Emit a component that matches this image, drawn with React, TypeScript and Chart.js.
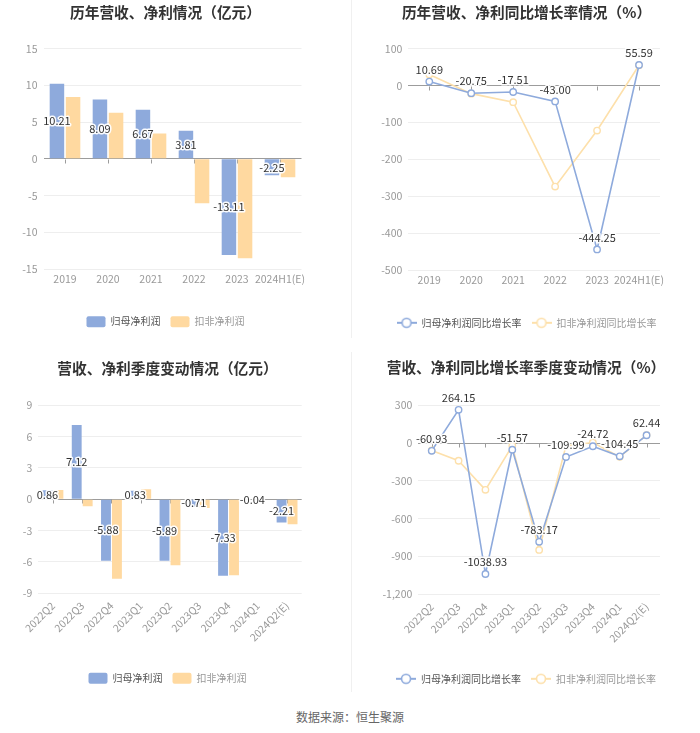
import React, { useEffect, useRef } from "react";
import { Chart, registerables } from "chart.js";

Chart.register(...registerables);

// ---------- data ----------
const yearCats = ["2019", "2020", "2021", "2022", "2023", "2024H1(E)"];
const yearNetProfit = [10.21, 8.09, 6.67, 3.81, -13.11, -2.25];
const yearDeductedProfit = [8.4, 6.27, 3.45, -6.05, -13.55, -2.5];
const yearNetGrowth = [10.69, -20.75, -17.51, -43.0, -444.25, 55.59];
const yearDeductedGrowth = [30, -22, -45, -274, -122, 55];

const quarterCats = ["2022Q2", "2022Q3", "2022Q4", "2023Q1", "2023Q2", "2023Q3", "2023Q4", "2024Q1", "2024Q2(E)"];
const quarterNetProfit = [0.86, 7.12, -5.88, 0.83, -5.89, -0.71, -7.33, -0.04, -2.21];
const quarterDeductedProfit = [0.9, -0.67, -7.6, 0.96, -6.32, -0.83, -7.28, -0.05, -2.39];
const quarterNetGrowth = [-60.93, 264.15, -1038.93, -51.57, -783.17, -109.99, -24.72, -104.45, 62.44];
const quarterDeductedGrowth = [-58, -140, -371, -21, -848, -20, 5, -109, 64];

const titles = [
  "历年营收、净利情况（亿元）",
  "历年营收、净利同比增长率情况（%）",
  "营收、净利季度变动情况（亿元）",
  "营收、净利同比增长率季度变动情况（%）",
];
const barSeriesNames = ["归母净利润", "扣非净利润"];
const lineSeriesNames = ["归母净利润同比增长率", "扣非净利润同比增长率"];
const sourceText = "数据来源：恒生聚源";

// ---------- style ----------
const FONT = '"Noto Sans CJK SC", "Noto Sans", sans-serif';
const BLUE = "#8eaadc";
const ORANGE = "#ffd9a0";
const ORANGE_LINE = "#fde0ab";
const TICK_COLOR = "#999";
const GRID = "#eeeeee";
const ZERO = "#9c9c9c";

Chart.defaults.font.family = FONT;

const valueLabelPlugin = {
  id: "valueLabels",
  afterDatasetsDraw(chart: any, _args: any, opts: any) {
    if (!opts || !opts.mode) return;
    const meta = chart.getDatasetMeta(0);
    const data = chart.data.datasets[0].data as number[];
    const ctx = chart.ctx;
    ctx.save();
    ctx.font = `11px ${FONT}`;
    ctx.textAlign = "center";
    ctx.textBaseline = "middle";
    ctx.lineJoin = "round";
    meta.data.forEach((el: any, i: number) => {
      const v = data[i];
      const x = el.x;
      const y = opts.mode === "center" ? (el.y + el.base) / 2 : el.y - 12;
      const txt = v.toFixed(2);
      ctx.strokeStyle = "rgba(255,255,255,0.95)";
      ctx.lineWidth = 3;
      ctx.strokeText(txt, x, y);
      ctx.fillStyle = "#333";
      ctx.fillText(txt, x, y);
    });
    ctx.restore();
  },
};

const zeroTickPlugin = {
  id: "zeroTicks",
  beforeDatasetsDraw(chart: any) {
    const xs = chart.scales.x;
    const ys = chart.scales.y;
    const y0 = Math.round(ys.getPixelForValue(0)) + 0.5;
    const ctx = chart.ctx;
    ctx.save();
    ctx.strokeStyle = ZERO;
    ctx.lineWidth = 1;
    ctx.beginPath();
    const n = chart.data.labels.length;
    for (let i = 0; i < n; i++) {
      const x = Math.round(xs.getPixelForValue(i)) + 0.5;
      ctx.moveTo(x, y0);
      ctx.lineTo(x, y0 + 4);
    }
    ctx.stroke();
    ctx.restore();
  },
};

function legendIcon(color: string) {
  const c = document.createElement("canvas");
  c.width = 20;
  c.height = 12;
  const ctx = c.getContext("2d")!;
  ctx.strokeStyle = color;
  ctx.lineWidth = 2;
  ctx.beginPath();
  ctx.moveTo(0, 6);
  ctx.lineTo(20, 6);
  ctx.stroke();
  ctx.beginPath();
  ctx.arc(10, 6, 4.5, 0, Math.PI * 2);
  ctx.fillStyle = "#fff";
  ctx.fill();
  ctx.lineWidth = 1.6;
  ctx.stroke();
  return c;
}

type PanelGeom = {
  padL: number;
  padR: number;
  padB: number;
  yWidth: number;
  rightWidth: number;
  xHeight: number;
  titleTop: number;
  titleBottom: number;
};

function buildConfig(kind: "bar" | "line", title: string, labels: string[], a: number[], b: number[], yMin: number, yMax: number, step: number, g: PanelGeom, rotate: boolean): any {
  const isBar = kind === "bar";
  const names = isBar ? barSeriesNames : lineSeriesNames;
  const datasets = isBar
    ? [
        { label: names[0], data: a, backgroundColor: BLUE, categoryPercentage: 0.75, barPercentage: 0.9 },
        { label: names[1], data: b, backgroundColor: ORANGE, categoryPercentage: 0.75, barPercentage: 0.9 },
      ]
    : [
        { label: names[0], data: a, borderColor: BLUE, backgroundColor: "#fff", borderWidth: 1.6, pointRadius: 3.2, pointBorderWidth: 1.4, pointBackgroundColor: "#fff", pointBorderColor: BLUE, tension: 0 },
        { label: names[1], data: b, borderColor: ORANGE_LINE, backgroundColor: "#fff", borderWidth: 1.6, pointRadius: 3.2, pointBorderWidth: 1.4, pointBackgroundColor: "#fff", pointBorderColor: ORANGE_LINE, tension: 0 },
      ];
  const icons = isBar ? null : [legendIcon(BLUE), legendIcon(ORANGE_LINE)];
  const legendColors = ["#555", "#999"];
  return {
    type: kind,
    data: { labels, datasets },
    plugins: [zeroTickPlugin, valueLabelPlugin],
    options: {
      responsive: false,
      animation: false,
      devicePixelRatio: 1,
      layout: { padding: { left: g.padL, right: g.padR, top: 0, bottom: g.padB } },
      scales: {
        x: {
          offset: true,
          grid: { display: false, drawTicks: false },
          border: { display: false },
          ticks: {
            color: TICK_COLOR,
            font: { size: 10.5, family: FONT },
            padding: rotate ? 6 : 4,
            autoSkip: false,
            minRotation: rotate ? 45 : 0,
            maxRotation: rotate ? 45 : 0,
          },
          afterFit: (s: any) => {
            s.height = g.xHeight;
          },
        },
        y: {
          min: yMin,
          max: yMax,
          grid: {
            color: (c: any) => (c.tick && c.tick.value === 0 ? ZERO : GRID),
            drawTicks: false,
          },
          border: { display: false },
          ticks: {
            stepSize: step,
            color: TICK_COLOR,
            font: { size: 10.5, family: FONT },
            padding: 6,
          },
          afterFit: (s: any) => {
            s.width = g.yWidth;
          },
        },
        yRight: {
          position: "right",
          min: yMin,
          max: yMax,
          grid: { display: false, drawTicks: false },
          border: { display: false },
          ticks: { display: false },
          afterFit: (s: any) => {
            s.width = g.rightWidth;
          },
        },
      },
      plugins: {
        title: {
          display: true,
          text: title,
          color: "#333",
          font: { size: 14.7, weight: "bold", family: FONT },
          padding: { top: g.titleTop, bottom: g.titleBottom },
        },
        legend: {
          display: true,
          position: "bottom",
          labels: {
            font: { size: 10, family: FONT },
            padding: 10,
            boxWidth: isBar ? 19 : 20,
            boxHeight: isBar ? 11 : 10,
            usePointStyle: !isBar,
            pointStyleWidth: isBar ? undefined : 20,
            useBorderRadius: isBar,
            borderRadius: 2,
            generateLabels: (chart: any) =>
              chart.data.datasets.map((d: any, i: number) => ({
                text: d.label,
                fillStyle: isBar ? d.backgroundColor : "#fff",
                strokeStyle: isBar ? d.backgroundColor : d.borderColor,
                lineWidth: 0,
                fontColor: legendColors[i],
                pointStyle: icons ? icons[i] : undefined,
                hidden: false,
                datasetIndex: i,
                borderRadius: 2,
              })),
          },
        },
        tooltip: { enabled: false },
        valueLabels: { mode: isBar ? "center" : "above" },
      },
    },
  };
}

function Panel(props: { left: number; top: number; width: number; height: number; config: () => any }) {
  const ref = useRef<HTMLCanvasElement | null>(null);
  useEffect(() => {
    if (!ref.current) return;
    const chart = new Chart(ref.current, props.config());
    return () => chart.destroy();
  }, []);
  return (
    <canvas
      ref={ref}
      width={props.width}
      height={props.height}
      style={{ position: "absolute", left: props.left, top: props.top, width: props.width, height: props.height }}
    />
  );
}

export default function App() {
  return (
    <div style={{ position: "absolute", left: 0, top: 0, width: 700, height: 733, background: "#fff", overflow: "hidden" }}>
      <Panel
        left={0}
        top={0}
        width={350}
        height={345}
        config={() =>
          buildConfig("bar", titles[0], yearCats, yearNetProfit, yearDeductedProfit, -15, 15, 5,
            { padL: 19.5, padR: 38.5, padB: 7.8, yWidth: 24, rightWidth: 10, xHeight: 37.2, titleTop: 3.5, titleBottom: 27.5 }, false)
        }
      />
      <Panel
        left={350}
        top={0}
        width={350}
        height={345}
        config={() =>
          buildConfig("line", titles[1], yearCats, yearNetGrowth, yearDeductedGrowth, -500, 100, 100,
            { padL: 28.3, padR: 25.3, padB: 7.2, yWidth: 30, rightWidth: 14.7, xHeight: 37.8, titleTop: 3.7, titleBottom: 27.3 }, false)
        }
      />
      <Panel
        left={0}
        top={345}
        width={350}
        height={350}
        config={() =>
          buildConfig("bar", titles[2], quarterCats, quarterNetProfit, quarterDeductedProfit, -9, 9, 3,
            { padL: 18.3, padR: 33.3, padB: 1.2, yWidth: 20, rightWidth: 15, xHeight: 69.5, titleTop: 14.3, titleBottom: 28.4 }, true)
        }
      />
      <Panel
        left={350}
        top={345}
        width={350}
        height={350}
        config={() =>
          buildConfig("line", titles[3], quarterCats, quarterNetGrowth, quarterDeductedGrowth, -1200, 300, 300,
            { padL: 28.3, padR: 26.3, padB: 1.2, yWidth: 40, rightWidth: 13.7, xHeight: 69.5, titleTop: 13.7, titleBottom: 29 }, true)
        }
      />
      <div style={{ position: "absolute", left: 351, top: 0, width: 1, height: 338, background: "#f0f0f0" }} />
      <div style={{ position: "absolute", left: 351, top: 352, width: 1, height: 340, background: "#f0f0f0" }} />
      <div
        style={{
          position: "absolute",
          left: 0,
          top: 708,
          width: 700,
          textAlign: "center",
          fontFamily: FONT,
          fontSize: 12,
          lineHeight: "18px",
          color: "#666",
        }}
      >
        {sourceText}
      </div>
    </div>
  );
}
